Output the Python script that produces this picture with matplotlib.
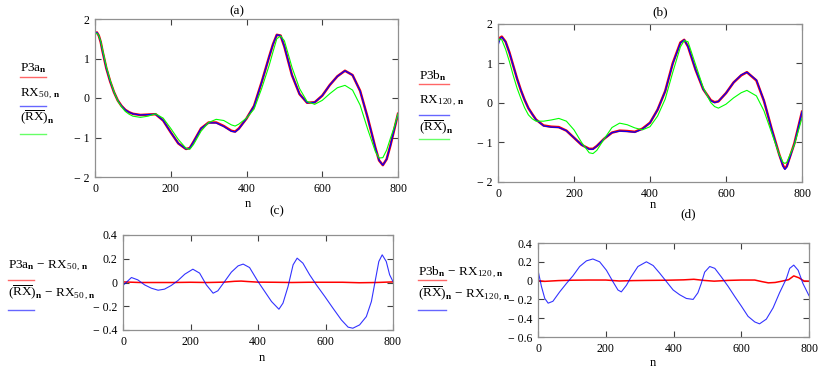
import matplotlib
matplotlib.use("Agg")
import matplotlib.pyplot as plt
from matplotlib.lines import Line2D

plt.rcParams['font.family'] = ['Liberation Serif', 'DejaVu Serif']
plt.rcParams['mathtext.fontset'] = 'custom'
plt.rcParams['mathtext.rm'] = 'Liberation Serif'
plt.rcParams['mathtext.it'] = 'Liberation Serif:italic'
plt.rcParams['mathtext.bf'] = 'Liberation Serif:bold'

# ---- panel (a) ----
n_a = [0, 5, 10, 15, 20, 30, 40, 50, 60, 70, 80, 90, 100, 120, 140, 160, 180, 200, 220, 240,
       250, 260, 280, 300, 320, 340, 360, 370, 380, 400, 420, 440, 460, 470, 480, 490, 500, 520,
       540, 560, 580, 600, 620, 640, 660, 680, 700, 720, 740, 750, 760, 770, 780, 790, 800]
p3a = [1.64, 1.66, 1.58, 1.42, 1.18, 0.75, 0.42, 0.15, -0.06, -0.20, -0.30, -0.36, -0.40, -0.43,
       -0.42, -0.41, -0.57, -0.87, -1.15, -1.29, -1.27, -1.11, -0.77, -0.62, -0.62, -0.71, -0.83,
       -0.85, -0.77, -0.52, -0.20, 0.40, 1.05, 1.36, 1.60, 1.58, 1.30, 0.58, 0.10, -0.12, -0.11,
       0.06, 0.33, 0.55, 0.69, 0.58, 0.18, -0.50, -1.25, -1.58, -1.70, -1.55, -1.20, -0.80, -0.40]
rx50 = [1.64, 1.66, 1.58, 1.42, 1.18, 0.75, 0.42, 0.15, -0.06, -0.20, -0.30, -0.36, -0.40, -0.43,
        -0.42, -0.41, -0.57, -0.87, -1.15, -1.29, -1.27, -1.11, -0.77, -0.63, -0.63, -0.72, -0.84,
        -0.86, -0.78, -0.52, -0.20, 0.40, 1.05, 1.36, 1.60, 1.58, 1.30, 0.58, 0.10, -0.12, -0.11,
        0.06, 0.33, 0.55, 0.69, 0.58, 0.18, -0.50, -1.25, -1.58, -1.70, -1.55, -1.20, -0.80, -0.40]
rxbar_a = [1.62, 1.64, 1.58, 1.44, 1.22, 0.79, 0.45, 0.16, -0.07, -0.22, -0.34, -0.41, -0.46, -0.49,
           -0.46, -0.40, -0.51, -0.77, -1.05, -1.27, -1.30, -1.18, -0.84, -0.62, -0.54, -0.57, -0.68,
           -0.71, -0.66, -0.51, -0.28, 0.24, 0.83, 1.17, 1.50, 1.57, 1.45, 0.78, 0.24, -0.09, -0.16,
           -0.06, 0.11, 0.26, 0.32, 0.20, -0.18, -0.79, -1.35, -1.52, -1.51, -1.32, -1.02, -0.74, -0.40]

# ---- panel (b) ----
n_b = [0, 5, 10, 20, 30, 40, 50, 60, 70, 80, 90, 100, 120, 140, 160, 180, 200, 220, 240, 250,
       260, 280, 300, 320, 340, 360, 380, 400, 420, 440, 460, 480, 490, 500, 520, 540, 560, 570,
       580, 600, 620, 640, 655, 680, 700, 720, 740, 750, 755, 760, 780, 800]
p3b = [1.55, 1.65, 1.68, 1.55, 1.28, 0.95, 0.62, 0.33, 0.08, -0.13, -0.28, -0.42, -0.57, -0.60,
       -0.61, -0.70, -0.88, -1.06, -1.16, -1.16, -1.09, -0.90, -0.75, -0.70, -0.71, -0.73, -0.65,
       -0.50, -0.17, 0.30, 1.01, 1.53, 1.60, 1.43, 0.84, 0.35, 0.07, 0.02, 0.04, 0.25, 0.52, 0.70,
       0.78, 0.57, 0.05, -0.65, -1.30, -1.58, -1.66, -1.60, -1.02, -0.22]
rx120 = [1.45, 1.62, 1.67, 1.55, 1.28, 0.95, 0.62, 0.33, 0.08, -0.13, -0.28, -0.42, -0.58, -0.61,
         -0.62, -0.70, -0.88, -1.06, -1.17, -1.17, -1.09, -0.90, -0.75, -0.71, -0.72, -0.74, -0.66,
         -0.50, -0.17, 0.30, 1.00, 1.52, 1.60, 1.43, 0.84, 0.35, 0.06, 0.01, 0.04, 0.25, 0.52, 0.71,
         0.78, 0.58, 0.06, -0.65, -1.31, -1.60, -1.68, -1.62, -1.03, -0.22]
rxbar_b = [1.55, 1.62, 1.60, 1.36, 1.05, 0.70, 0.38, 0.12, -0.12, -0.30, -0.40, -0.46, -0.46, -0.43,
           -0.39, -0.46, -0.68, -1.00, -1.26, -1.28, -1.20, -0.90, -0.62, -0.51, -0.55, -0.63, -0.68,
           -0.60, -0.33, 0.10, 0.78, 1.42, 1.58, 1.55, 0.97, 0.39, 0.01, -0.09, -0.13, -0.03, 0.13,
           0.26, 0.32, 0.18, -0.20, -0.75, -1.30, -1.50, -1.53, -1.50, -1.05, -0.38]

# ---- panel (c) ----
n_c_red = [0, 50, 100, 150, 200, 250, 300, 330, 350, 370, 400, 450, 500, 550, 600, 650, 700, 750, 800]
diff_c_red = [0.005, 0.0, 0.0, 0.0, 0.002, 0.0, 0.003, 0.01, 0.012, 0.008, 0.003, 0.002, 0.0,
              0.002, 0.002, 0.002, -0.002, 0.0, 0.005]
n_c_blue = [0, 25, 44, 64, 84, 104, 123, 143, 163, 183, 207, 227, 247, 267, 281, 301, 321, 341,
            356, 375, 400, 420, 440, 462, 474, 489, 504, 516, 533, 553, 573, 598, 622, 647, 667,
            681, 701, 721, 736, 746, 758, 768, 780, 790, 800]
diff_c_blue = [-0.025, 0.042, 0.022, -0.02, -0.048, -0.065, -0.056, -0.025, 0.017, 0.07, 0.112,
               0.079, -0.02, -0.09, -0.07, 0.008, 0.087, 0.14, 0.155, 0.126, 0.008, -0.076, -0.16,
               -0.225, -0.174, -0.034, 0.149, 0.205, 0.163, 0.065, -0.02, -0.118, -0.216, -0.315,
               -0.376, -0.385, -0.357, -0.287, -0.16, -0.006, 0.177, 0.233, 0.177, 0.065, 0.008]

# ---- panel (d) ----
n_d_red = [0, 20, 60, 100, 150, 200, 240, 280, 320, 380, 430, 460, 490, 520, 560, 600, 640, 660,
           680, 700, 720, 740, 755, 770, 785, 800]
diff_d_red = [0.0, -0.008, 0.0, 0.004, 0.006, 0.006, -0.004, 0.0, 0.002, 0.004, 0.008, 0.014, 0.002,
              -0.006, 0.002, 0.006, 0.006, -0.01, -0.024, -0.02, -0.006, 0.01, 0.05, 0.03, -0.004,
              -0.006]
n_d_blue = [0, 10, 20, 30, 44, 64, 84, 103, 123, 143, 162, 182, 202, 221, 236, 246, 261, 275, 295,
            320, 340, 359, 379, 399, 418, 438, 458, 472, 482, 492, 507, 522, 541, 561, 581, 600,
            620, 640, 654, 674, 694, 713, 733, 743, 755, 768, 782, 800]
diff_d_blue = [0.11, -0.06, -0.19, -0.24, -0.22, -0.12, -0.03, 0.05, 0.15, 0.21, 0.23, 0.20, 0.11,
               -0.01, -0.10, -0.12, -0.05, 0.04, 0.15, 0.20, 0.16, 0.08, -0.01, -0.10, -0.15, -0.19,
               -0.20, -0.13, -0.03, 0.09, 0.15, 0.13, 0.04, -0.06, -0.17, -0.27, -0.38, -0.44, -0.46,
               -0.41, -0.29, -0.13, 0.02, 0.13, 0.165, 0.11, -0.03, -0.16]

x_ticks = [0, 200, 400, 600, 800]
y_ticks_top = [-2, -1, 0, 1, 2]
y_labels_top = ['\u2212 2', '\u2212 1', '0', '1', '2']
y_ticks_c = [-0.4, -0.2, 0, 0.2, 0.4]
y_labels_c = ['\u2212 0.4', '\u2212 0.2', '0', '0.2', '0.4']
y_ticks_d = [-0.6, -0.4, -0.2, 0, 0.2, 0.4]
y_labels_d = ['\u2212 0.6', '\u2212 0.4', '\u2212 0.2', '0', '0.2', '0.4']

RED = '#ff0000'
BLUE = '#0000ff'
GREEN = '#00ff00'
W, H = 830, 374

fig = plt.figure(figsize=(8.3, 3.74), dpi=100)


def px_axes(left, top, right, bottom):
    return fig.add_axes([left / W, 1 - bottom / H, (right - left) / W, (bottom - top) / H])


def style(ax, yt, yl, ylim):
    ax.set_xlim(0, 800)
    ax.set_ylim(*ylim)
    ax.set_xticks(x_ticks)
    ax.set_xticklabels([str(t) for t in x_ticks])
    ax.set_yticks(yt)
    ax.set_yticklabels(yl)
    ax.tick_params(direction='in', top=True, right=True, length=4, width=0.8,
                   labelsize=8.5, pad=4, color='#404040')
    for s in ax.spines.values():
        s.set_color('#909090')
        s.set_linewidth(0.9)


def legend_item(x, y_text, y_line, label, color, length=26):
    fig.text(x / W, 1 - y_text / H, label, fontsize=9.5, va='center', ha='left')
    fig.add_artist(Line2D([x / W, (x + length) / W], [1 - y_line / H, 1 - y_line / H],
                          color=color, lw=1.0, alpha=0.6, transform=fig.transFigure))


# (a)
ax_a = px_axes(95, 19, 398, 177)
ax_a.plot(n_a, p3a, color=RED, lw=1.8)
ax_a.plot(n_a, rx50, color=BLUE, lw=0.9)
ax_a.plot(n_a, rxbar_a, color=GREEN, lw=0.8)
style(ax_a, y_ticks_top, y_labels_top, (-2, 2))
fig.text(237 / W, 1 - 11 / H, '(a)', fontsize=9.5, ha='center', va='center')
fig.text(248 / W, 1 - 204 / H, 'n', fontsize=9, ha='center', va='center')
legend_item(20, 68, 77, r'$\mathrm{P3a}_{\mathbf{n}}$', RED)
legend_item(20, 94, 106, r'$\mathrm{RX}_{50\,,\,\mathbf{n}}$', BLUE)
legend_item(20, 117, 134, r'$(\overline{\mathrm{RX}})_{\mathbf{n}}$', GREEN)

# (b)
ax_b = px_axes(498, 24, 802, 182)
ax_b.plot(n_b, p3b, color=RED, lw=1.8)
ax_b.plot(n_b, rx120, color=BLUE, lw=0.9)
ax_b.plot(n_b, rxbar_b, color=GREEN, lw=0.8)
style(ax_b, y_ticks_top, y_labels_top, (-2, 2))
fig.text(660 / W, 1 - 12 / H, '(b)', fontsize=9.5, ha='center', va='center')
fig.text(653 / W, 1 - 205 / H, 'n', fontsize=9, ha='center', va='center')
legend_item(419, 76, 84, r'$\mathrm{P3b}_{\mathbf{n}}$', RED, 30)
legend_item(419, 101, 115, r'$\mathrm{RX}_{120\,,\,\mathbf{n}}$', BLUE, 30)
legend_item(419, 127, 139, r'$(\overline{\mathrm{RX}})_{\mathbf{n}}$', GREEN, 30)

# (c)
ax_c = px_axes(123, 235, 393, 330)
ax_c.plot(n_c_red, diff_c_red, color=RED, lw=1.1)
ax_c.plot(n_c_blue, diff_c_blue, color=BLUE, lw=0.8, alpha=0.8)
style(ax_c, y_ticks_c, y_labels_c, (-0.4, 0.4))
fig.text(277 / W, 1 - 211 / H, '(c)', fontsize=9.5, ha='center', va='center')
fig.text(262 / W, 1 - 358 / H, 'n', fontsize=9, ha='center', va='center')
legend_item(8, 266, 280, r'$\mathrm{P3a}_{\mathbf{n}}\,-\,\mathrm{RX}_{50\,,\,\mathbf{n}}$', RED)
legend_item(8, 292, 310, r'$(\overline{\mathrm{RX}})_{\mathbf{n}}\,-\,\mathrm{RX}_{50\,,\,\mathbf{n}}$', BLUE)

# (d)
ax_d = px_axes(538, 243, 809, 337)
ax_d.plot(n_d_red, diff_d_red, color=RED, lw=1.1)
ax_d.plot(n_d_blue, diff_d_blue, color=BLUE, lw=0.8, alpha=0.8)
style(ax_d, y_ticks_d, y_labels_d, (-0.6, 0.4))
fig.text(688 / W, 1 - 214 / H, '(d)', fontsize=9.5, ha='center', va='center')
fig.text(653 / W, 1 - 363 / H, 'n', fontsize=9, ha='center', va='center')
legend_item(418, 272, 280, r'$\mathrm{P3b}_{\mathbf{n}}\,-\,\mathrm{RX}_{120\,,\,\mathbf{n}}$', RED, 28)
legend_item(418, 293, 310, r'$(\overline{\mathrm{RX}})_{\mathbf{n}}\,-\,\mathrm{RX}_{120\,,\,\mathbf{n}}$', BLUE, 28)

fig.savefig('out.png', dpi=100)
